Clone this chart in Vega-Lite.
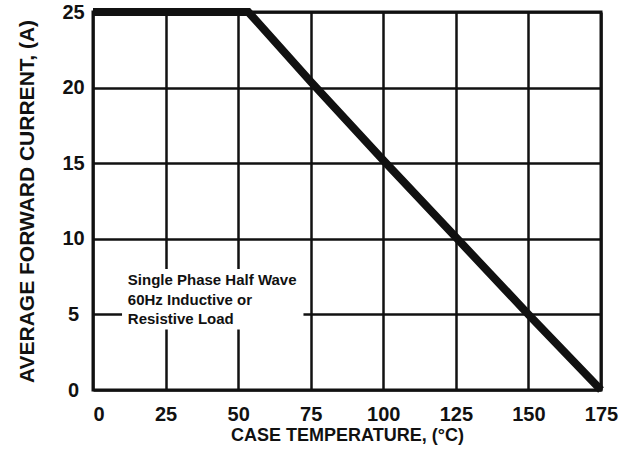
{
  "$schema": "https://vega.github.io/schema/vega-lite/v6.json",
  "width": 508,
  "height": 378,
  "autosize": {"type": "none"},
  "padding": {"left": 93, "top": 12, "right": 38, "bottom": 63},
  "background": "white",
  "config": {
    "view": {"stroke": "#111", "strokeWidth": 3},
    "font": "Liberation Sans",
    "axis": {
      "grid": true,
      "gridColor": "#111",
      "gridWidth": 2.5,
      "gridOpacity": 1,
      "domain": false,
      "ticks": false,
      "labelFont": "Liberation Sans",
      "labelFontWeight": "bold",
      "labelFontSize": 20,
      "labelColor": "#111",
      "titleFont": "Liberation Sans",
      "titleFontWeight": "bold",
      "titleColor": "#111"
    }
  },
  "layer": [
    {
      "data": {"values": [{"x1": 10, "x2": 72.5, "y1": 4, "y2": 8}]},
      "mark": {"type": "rect", "fill": "white"},
      "encoding": {
        "x": {"field": "x1", "type": "quantitative", "scale": {"domain": [0, 175], "nice": false}, "axis": {"values": [0, 25, 50, 75, 100, 125, 150, 175], "title": "CASE TEMPERATURE, (°C)", "titleFontSize": 18, "labelPadding": 14, "titlePadding": 2, "labelFlush": false, "labelAlign": {"condition": {"test": "datum.value == 0", "value": "left"}, "value": "center"}}},
        "x2": {"field": "x2"},
        "y": {"field": "y1", "type": "quantitative", "scale": {"domain": [0, 25], "nice": false}, "axis": {"values": [0, 5, 10, 15, 20, 25], "title": "AVERAGE FORWARD CURRENT, (A)", "titleFontSize": 21, "labelAlign": "center", "labelPadding": 20, "titlePadding": 24}},
        "y2": {"field": "y2"}
      }
    },
    {
      "data": {"values": [
        {"t": 0, "i": 25},
        {"t": 53.5, "i": 25},
        {"t": 75, "i": 20.4},
        {"t": 100, "i": 15.2},
        {"t": 125, "i": 10.1},
        {"t": 150, "i": 5},
        {"t": 175, "i": 0}
      ]},
      "mark": {"type": "line", "color": "#111", "strokeWidth": 8, "strokeJoin": "miter"},
      "encoding": {
        "x": {"field": "t", "type": "quantitative"},
        "y": {"field": "i", "type": "quantitative"}
      }
    },
    {
      "data": {"values": [
        {"x": 12, "y": 7.27, "label": "Single Phase Half Wave"},
        {"x": 12, "y": 5.95, "label": "60Hz Inductive or"},
        {"x": 12, "y": 4.7, "label": "Resistive Load"}
      ]},
      "mark": {"type": "text", "align": "left", "baseline": "middle", "fontSize": 15, "fontWeight": "bold", "color": "#111", "font": "Liberation Sans"},
      "encoding": {
        "x": {"field": "x", "type": "quantitative"},
        "y": {"field": "y", "type": "quantitative"},
        "text": {"field": "label"}
      }
    }
  ]
}
